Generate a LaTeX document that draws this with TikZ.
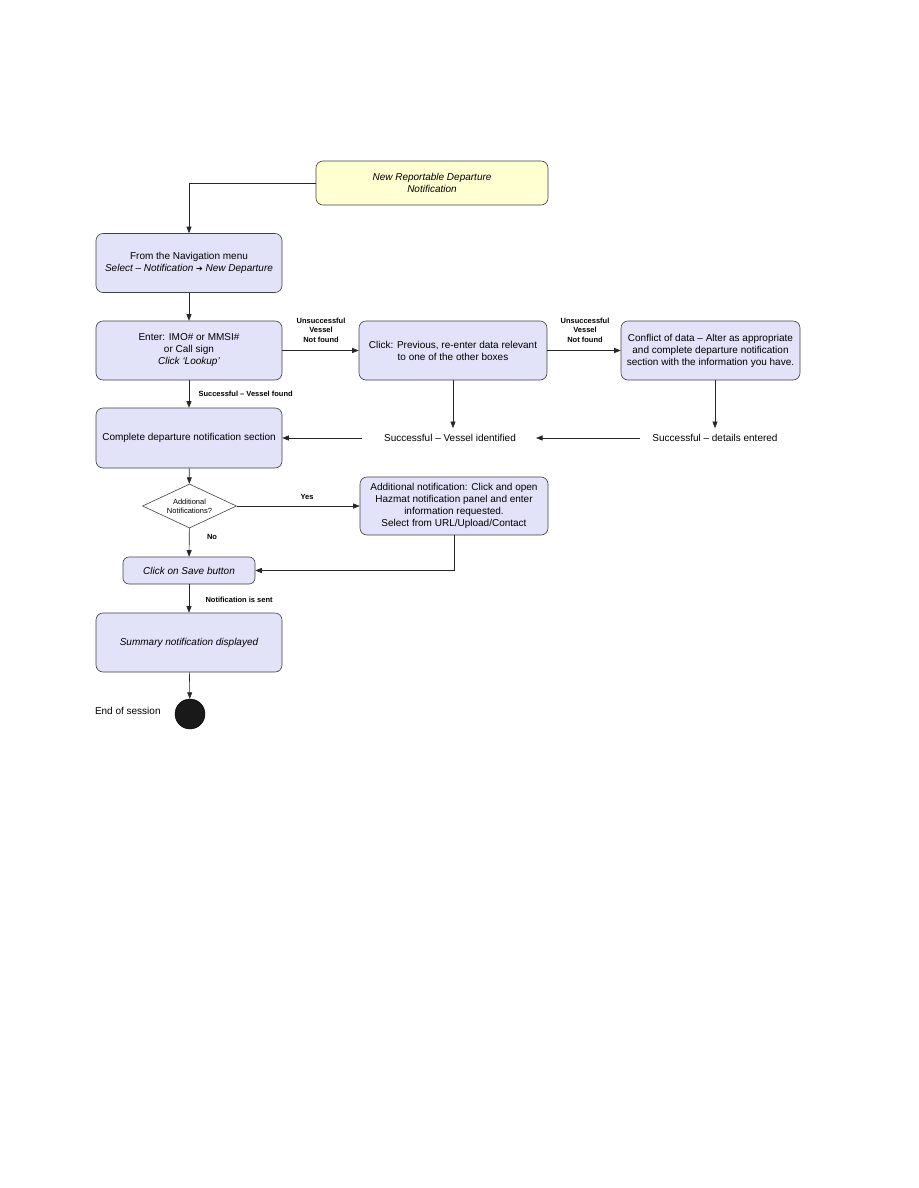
\documentclass[tikz,border=0pt]{standalone}
\usepackage{fontspec}
\setmainfont{Liberation Sans}
\newfontfamily\symfont{DejaVu Sans}
\usepackage{xcolor}
\usetikzlibrary{positioning,arrows.meta,shapes.geometric}

\definecolor{boxblue}{HTML}{E2E2F9}
\definecolor{startyellow}{HTML}{FFFFD2}

\begin{document}
\begin{tikzpicture}[
      x=1pt, y=-1pt,
      box/.style={draw=black!75, line width=0.6pt, rounded corners=7pt, minimum height=59pt, minimum width=186pt, align=center, fill=boxblue, inner sep=2pt},
      lbl/.style={font=\fontsize{7.5}{9.5}\selectfont\bfseries, align=center},
      txt/.style={inner sep=2pt},
      arrow/.style={-{Triangle[length=6.5pt,width=5pt]}, black!85, line width=0.6pt}
    ]
    \useasboundingbox (0,0) rectangle (918,1188);

    % main column
    \node[box, fill=startyellow, minimum width=232pt, minimum height=44pt, font=\itshape] (start) at (432,183) {New Reportable Departure\\Notification};
    \node[box]                          (nav)      at (189,263) {From the Navigation menu\\\textit{Select -- Notification {\symfont\upshape\fontsize{8}{12}\selectfont ➔} New Departure}};
    \node[box]                          (enter)    at (189,350.5) {Enter: IMO\# or MMSI\#\\or Call sign\\\textit{Click `Lookup'}};
    \node[box, minimum width=188pt]     (retry)    at (453,350.5) {Click: Previous, re-enter data relevant\\to one of the other boxes};
    \node[box, minimum width=179pt]     (conflict) at (710.5,350.5) {Conflict of data -- Alter as appropriate\\and complete departure notification\\section with the information you have.};
    \node[box, minimum height=60pt]     (complete) at (189,438) {Complete departure notification section};
    \node[txt]                          (identified) at (450,438) {Successful -- Vessel identified};
    \node[txt]                          (entered)    at (715,438) {Successful -- details entered};
    \node[draw=black!75, line width=0.6pt, diamond, aspect=2.1, inner sep=0pt, minimum width=94pt, minimum height=44pt, align=center, font=\fontsize{7.5}{9}\selectfont] (addq) at (189.5,506) {Additional\\Notifications?};
    \node[box, minimum width=188pt, minimum height=58pt] (hazmat) at (454,506) {Additional notification: Click and open\\Hazmat notification panel and enter\\information requested.\\Select from URL/Upload/Contact};
    \node[box, minimum width=132pt, minimum height=27pt, rounded corners=6pt, font=\itshape] (save) at (189,570.5) {Click on Save button};
    \node[box, font=\itshape]           (summary)  at (189,642.5) {Summary notification displayed};
    \node[circle, fill=black!90, draw=black, minimum size=30pt, inner sep=0pt] (finish) at (190,714) {};
    \node[txt, left=12pt of finish, yshift=3pt] (endlbl) {End of session};

    % connectors
    \draw[arrow] (start.west) -| (nav.north);
    \draw[arrow] (nav) -- (enter);
    \draw[arrow] (enter) -- (retry);
    \draw[arrow] (retry) -- (conflict);
    \draw[arrow] (enter) -- (complete);
    \draw[arrow, shorten >=4pt] (retry.south) -- (retry.south |- identified.north);
    \draw[arrow, shorten >=4pt] (conflict.south -| entered.north) -- (entered.north);
    \draw[arrow, shorten <=10pt, shorten >=18pt] (entered.west) -- (identified.east);
    \draw[arrow, shorten <=20pt] (identified.west) -- (complete.east);
    \draw[arrow] (complete) -- (addq);
    \draw[arrow] (addq) -- (hazmat);
    \draw[arrow] (addq) -- (save);
    \draw[arrow] (hazmat.south) |- (save.east);
    \draw[arrow] (save) -- (summary);
    \draw[arrow] (summary) -- (finish);

    % edge labels
    \node[lbl] at (321,330) {Unsuccessful\\Vessel\\Not found};
    \node[lbl] at (585,330) {Unsuccessful\\Vessel\\Not found};
    \node[lbl, anchor=west] at (195,394) {Successful -- Vessel found};
    \node[lbl] at (307,497) {Yes};
    \node[lbl] at (212,537) {No};
    \node[lbl, anchor=west] at (202,600) {Notification is sent};
  \end{tikzpicture}
\end{document}
